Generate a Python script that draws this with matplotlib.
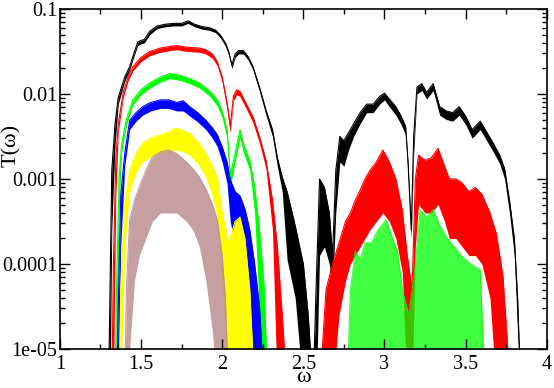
import matplotlib
matplotlib.use('Agg')
import matplotlib.pyplot as plt
import numpy as np

plt.rcParams['font.family'] = ['Liberation Serif', 'DejaVu Serif']

# log10 T(omega): upper edge (hi) and lower edge (lo) of each noisy trace
w_black = [1.300, 1.310, 1.320, 1.340, 1.360, 1.400, 1.430, 1.460, 1.480, 1.500,
           1.520, 1.555, 1.600, 1.650, 1.700, 1.750, 1.790, 1.830, 1.880, 1.920,
           1.960, 1.990, 2.020, 2.040, 2.060, 2.080, 2.100, 2.130, 2.160, 2.190,
           2.230, 2.270, 2.310, 2.340, 2.370, 2.400, 2.450, 2.500, 2.530, 2.560,
           2.580, 2.600, 2.630, 2.660, 2.680, 2.700, 2.725, 2.750, 2.780, 2.810,
           2.850, 2.890, 2.930, 2.970, 3.000, 3.030, 3.070, 3.100, 3.130, 3.145,
           3.165, 3.180, 3.200, 3.230, 3.260, 3.300, 3.340, 3.380, 3.420, 3.460,
           3.500, 3.540, 3.590, 3.630, 3.670, 3.710, 3.740, 3.770, 3.800, 3.820,
           3.840]
hi_black = [-5.5, -4.2, -2.9, -2.35, -2.04, -1.80, -1.68, -1.50, -1.39, -1.37,
            -1.36, -1.26, -1.20, -1.18, -1.17, -1.17, -1.14, -1.18, -1.21, -1.22,
            -1.25, -1.31, -1.40, -1.50, -1.66, -1.53, -1.49, -1.49, -1.56, -1.68,
            -1.92, -2.19, -2.42, -2.75, -2.98, -3.15, -3.55, -4.0, -4.6, -5.5,
            -4.2, -3.0, -3.1, -3.4, -3.9, -2.9, -2.5, -2.55, -2.45, -2.35,
            -2.22, -2.12, -2.12, -2.03, -1.99, -2.06, -2.15, -2.25, -2.38, -2.80,
            -3.6, -2.5, -1.92, -1.88, -1.98, -1.88, -2.15, -2.20, -2.22, -2.15,
            -2.26, -2.42, -2.32, -2.45, -2.58, -2.72, -2.88, -3.25, -3.70, -4.4,
            -5.5]
lo_black = [-5.5, -5.5, -3.6, -2.6, -2.12, -1.85, -1.72, -1.54, -1.43, -1.41,
            -1.40, -1.30, -1.23, -1.21, -1.20, -1.20, -1.17, -1.21, -1.24, -1.25,
            -1.28, -1.34, -1.44, -1.54, -1.70, -1.57, -1.53, -1.53, -1.60, -1.72,
            -1.97, -2.25, -2.50, -2.85, -3.15, -3.95, -4.4, -5.5, -5.5, -5.5,
            -5.5, -3.9, -3.8, -4.0, -4.3, -3.4, -2.8, -2.85, -2.65, -2.5,
            -2.35, -2.22, -2.22, -2.12, -2.07, -2.15, -2.25, -2.35, -2.48, -2.95,
            -3.7, -2.7, -2.0, -1.96, -2.06, -1.96, -2.25, -2.30, -2.32, -2.25,
            -2.36, -2.52, -2.42, -2.55, -2.68, -2.82, -3.0, -3.4, -3.9, -4.8,
            -5.5]

w_red = [1.320, 1.330, 1.345, 1.360, 1.390, 1.420, 1.450, 1.500, 1.555, 1.620,
         1.680, 1.720, 1.780, 1.860, 1.900, 1.940, 1.970, 2.000, 2.030, 2.050,
         2.070, 2.090, 2.110, 2.150, 2.190, 2.230, 2.270, 2.310, 2.340, 2.370,
         2.400, 2.600, 2.640, 2.680, 2.720, 2.760, 2.790, 2.820, 2.850, 2.880,
         2.910, 2.950, 2.990, 3.030, 3.070, 3.110, 3.140, 3.170, 3.190, 3.210,
         3.250, 3.290, 3.330, 3.370, 3.400, 3.440, 3.480, 3.520, 3.560, 3.600,
         3.650, 3.690, 3.730, 3.760, 3.780]
hi_red = [-5.5, -4.0, -2.75, -2.35, -1.99, -1.80, -1.68, -1.57, -1.50, -1.46,
          -1.44, -1.43, -1.45, -1.46, -1.48, -1.53, -1.62, -1.80, -2.10, -2.38,
          -2.02, -1.95, -1.97, -2.12, -2.27, -2.50, -2.78, -3.25, -3.8, -4.6,
          -5.5, -5.5, -4.3, -4.0, -3.75, -3.50, -3.40, -3.25, -3.13, -3.00,
          -2.90, -2.80, -2.66, -2.80, -3.00, -3.37, -3.9, -4.3, -3.0, -2.72,
          -2.78, -2.75, -2.64, -2.85, -3.0, -3.0, -3.05, -3.15, -3.10, -3.18,
          -3.40, -3.65, -4.15, -5.0, -5.5]
lo_red = [-5.5, -5.5, -3.2, -2.45, -2.05, -1.85, -1.73, -1.62, -1.55, -1.51,
          -1.49, -1.48, -1.50, -1.51, -1.53, -1.58, -1.67, -1.86, -2.18, -2.46,
          -2.08, -2.01, -2.03, -2.18, -2.34, -2.58, -2.88, -3.6, -5.5, -5.5,
          -5.5, -5.5, -5.5, -5.5, -4.6, -4.2, -4.0, -3.9, -3.8, -3.7,
          -3.6, -3.5, -3.4, -3.5, -3.7, -4.1, -5.5, -5.5, -3.8, -3.3,
          -3.4, -3.4, -3.3, -3.5, -3.7, -3.7, -3.8, -3.9, -3.9, -4.0,
          -4.4, -5.5, -5.5, -5.5, -5.5]

w_green = [1.340, 1.350, 1.365, 1.380, 1.410, 1.450, 1.500, 1.555, 1.620, 1.680,
           1.740, 1.800, 1.860, 1.920, 1.970, 2.000, 2.030, 2.050, 2.080, 2.110,
           2.130, 2.170, 2.200, 2.230, 2.260, 2.280]
hi_green = [-5.5, -4.2, -3.0, -2.60, -2.30, -2.07, -1.95, -1.87, -1.80, -1.76,
            -1.78, -1.82, -1.87, -1.96, -2.07, -2.20, -2.42, -2.95, -2.70, -2.42,
            -2.58, -2.78, -3.09, -3.6, -4.3, -5.5]
lo_green = [-5.5, -5.5, -3.4, -2.70, -2.37, -2.13, -2.01, -1.93, -1.86, -1.82,
            -1.84, -1.88, -1.93, -2.02, -2.14, -2.28, -2.52, -3.1, -2.80, -2.52,
            -2.68, -2.9, -3.4, -4.6, -5.5, -5.5]

# second (sparse) green band, spikes reach the bottom of the axis
w_green2 = [2.770, 2.790, 2.820, 2.850, 2.880, 2.920, 2.960, 3.010, 3.050, 3.080,
            3.110, 3.150, 3.190, 3.220, 3.260, 3.300, 3.340, 3.380, 3.430, 3.480,
            3.530, 3.590, 3.620]
hi_green2 = [-5.5, -4.3, -3.85, -3.95, -3.75, -3.75, -3.60, -3.48, -3.70, -3.85,
             -4.3, -4.6, -4.0, -3.36, -3.45, -3.36, -3.55, -3.68, -3.80, -3.92,
             -4.0, -4.07, -5.5]

w_blue = [1.350, 1.360, 1.375, 1.400, 1.430, 1.470, 1.510, 1.560, 1.620, 1.670,
          1.720, 1.760, 1.800, 1.850, 1.900, 1.940, 1.970, 2.000, 2.030, 2.050,
          2.080, 2.110, 2.140, 2.170, 2.200, 2.230, 2.260]
hi_blue = [-5.5, -4.5, -3.2, -2.70, -2.31, -2.22, -2.15, -2.10, -2.07, -2.07,
           -2.10, -2.08, -2.15, -2.22, -2.31, -2.40, -2.48, -2.62, -2.80, -3.01,
           -3.15, -3.20, -3.35, -3.60, -4.0, -4.5, -5.5]
lo_blue = [-5.5, -5.5, -3.8, -2.85, -2.42, -2.32, -2.25, -2.20, -2.17, -2.17,
           -2.20, -2.20, -2.26, -2.33, -2.42, -2.52, -2.62, -2.80, -3.05, -3.5,
           -3.8, -4.0, -4.3, -5.0, -5.5, -5.5, -5.5]

w_yellow = [1.365, 1.375, 1.400, 1.430, 1.470, 1.510, 1.560, 1.620, 1.670, 1.710,
            1.760, 1.800, 1.850, 1.900, 1.940, 1.970, 2.000, 2.040, 2.080, 2.110,
            2.140, 2.170, 2.200]
hi_yellow = [-5.5, -4.3, -3.28, -2.89, -2.70, -2.58, -2.52, -2.48, -2.45, -2.40,
             -2.43, -2.46, -2.56, -2.70, -2.85, -2.98, -3.40, -3.75, -3.50, -3.45,
             -3.7, -4.3, -5.5]
lo_yellow = [-5.5, -5.5, -3.8, -3.15, -2.92, -2.80, -2.74, -2.70, -2.68, -2.66,
             -2.68, -2.72, -2.82, -2.98, -3.2, -3.45, -4.3, -5.5, -5.0, -5.0,
             -5.5, -5.5, -5.5]

w_brown = [1.400, 1.410, 1.430, 1.460, 1.490, 1.530, 1.570, 1.620, 1.670, 1.720,
           1.780, 1.820, 1.860, 1.900, 1.940, 1.970, 2.000, 2.020, 2.040]
hi_brown = [-5.5, -4.3, -3.48, -3.25, -3.09, -2.90, -2.74, -2.68, -2.66, -2.70,
            -2.80, -2.88, -2.98, -3.12, -3.30, -3.48, -3.9, -4.4, -5.5]
lo_brown = [-5.5, -5.5, -5.0, -4.2, -3.9, -3.7, -3.5, -3.4, -3.4, -3.4,
            -3.5, -3.6, -3.8, -4.2, -4.8, -5.5, -5.5, -5.5, -5.5]

fig = plt.figure(figsize=(5.54, 3.88), dpi=100)
ax = fig.add_axes([0.108, 0.1005, 0.879, 0.8765])

bands = [
    (w_black, hi_black, lo_black, 'black', 1.0),
    (w_red, hi_red, lo_red, '#ff0000', 1.0),
    (w_green, hi_green, lo_green, '#00ff00', 1.0),
    (w_green2, hi_green2, [-5.5] * len(hi_green2), '#00ff00', 0.75),
    (w_blue, hi_blue, lo_blue, '#0000ff', 1.0),
    (w_yellow, hi_yellow, lo_yellow, '#ffff00', 1.0),
    (w_brown, hi_brown, lo_brown, '#bc8f8f', 0.85),
]
for w, hi, lo, col, a in bands:
    w = np.array(w)
    top = 10.0 ** np.array(hi)
    bot = 10.0 ** np.array(lo)
    ax.fill_between(w, bot, top, color=col, alpha=a, lw=0)
    ax.plot(w, top, color=col, lw=0.8, alpha=a)

ax.set_yscale('log')
ax.set_xlim(1, 4)
ax.set_ylim(1e-5, 0.1)

ax.set_xticks([1, 1.5, 2, 2.5, 3, 3.5, 4])
ax.set_xticklabels(['1', '1.5', '2', '2.5', '3', '3.5', '4'])
ax.set_xticks(np.arange(1.25, 4, 0.5), minor=True)
ax.set_yticks([1e-5, 1e-4, 1e-3, 1e-2, 1e-1])
ax.set_yticklabels(['1e-05', '0.0001', '0.001', '0.01', '0.1'])

ax.tick_params(which='both', direction='in', top=True, right=True,
               labelsize=14.5, width=1.0)
ax.tick_params(which='major', length=7)
ax.tick_params(which='minor', length=3.5)
ax.tick_params(axis='x', pad=4)
ax.tick_params(axis='y', pad=2)
for s in ax.spines.values():
    s.set_linewidth(1.2)

ax.set_xlabel('ω', fontsize=16, va='bottom')
ax.xaxis.set_label_coords(0.5, -0.113)
ax.set_ylabel('T(ω)', fontsize=16)
ax.yaxis.set_label_coords(-0.08, 0.6)

fig.savefig('out.png', dpi=100)
